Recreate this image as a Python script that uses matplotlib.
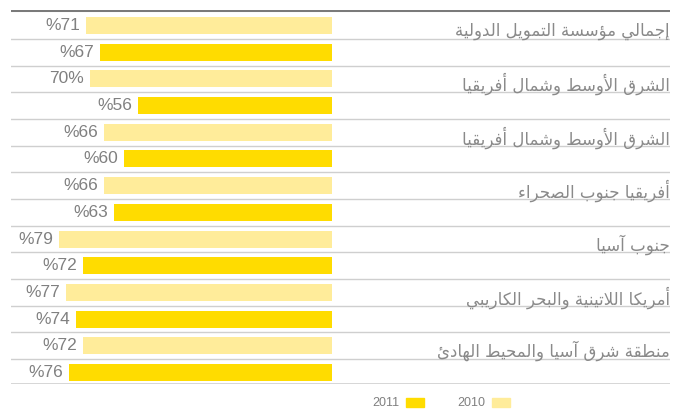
import matplotlib
matplotlib.use("Agg")
import matplotlib.pyplot as plt
from matplotlib.patches import Patch
import numpy as np

# ---------------- data ----------------
categories = [
    "إجمالي مؤسسة التمويل الدولية",
    "الشرق الأوسط وشمال أفريقيا",
    "الشرق الأوسط وشمال أفريقيا",
    "أفريقيا جنوب الصحراء",
    "جنوب آسيا",
    "أمريكا اللاتينية والبحر الكاريبي",
    "منطقة شرق آسيا والمحيط الهادئ",
]
values_2010 = [71, 70, 66, 66, 79, 77, 72]
values_2011 = [67, 56, 60, 63, 72, 74, 76]
labels_2010 = ["%71", "70%", "%66", "%66", "%79", "%77", "%72"]
labels_2011 = ["%67", "%56", "%60", "%63", "%72", "%74", "%76"]
series_names = ["2011", "2010"]

# ---------------- Arabic shaping for display ----------------
DUAL = {'ئ': 0xFE89, 'ب': 0xFE8F, 'ت': 0xFE95, 'ث': 0xFE99, 'ج': 0xFE9D,
        'ح': 0xFEA1, 'خ': 0xFEA5, 'س': 0xFEB1, 'ش': 0xFEB5, 'ص': 0xFEB9,
        'ض': 0xFEBD, 'ط': 0xFEC1, 'ظ': 0xFEC5, 'ع': 0xFEC9, 'غ': 0xFECD,
        'ف': 0xFED1, 'ق': 0xFED5, 'ك': 0xFED9, 'ل': 0xFEDD, 'م': 0xFEE1,
        'ن': 0xFEE5, 'ه': 0xFEE9, 'ي': 0xFEF1}
RIGHT = {'آ': 0xFE81, 'أ': 0xFE83, 'ؤ': 0xFE85, 'إ': 0xFE87, 'ا': 0xFE8D,
         'ة': 0xFE93, 'د': 0xFEA9, 'ذ': 0xFEAB, 'ر': 0xFEAD, 'ز': 0xFEAF,
         'و': 0xFEED, 'ى': 0xFEEF}
LAMALEF = {'آ': (0xFEF5, 0xFEF6), 'أ': (0xFEF7, 0xFEF8),
           'إ': (0xFEF9, 0xFEFA), 'ا': (0xFEFB, 0xFEFC)}


def shape(s):
    out = []
    i, n = 0, len(s)
    while i < n:
        c = s[i]
        prev = s[i - 1] if i > 0 else ''
        prev_conn = prev in DUAL
        if c == 'ل' and i + 1 < n and s[i + 1] in LAMALEF:
            iso, fin = LAMALEF[s[i + 1]]
            out.append(chr(fin if prev_conn else iso))
            i += 2
            continue
        nxt = s[i + 1] if i + 1 < n else ''
        if c in DUAL:
            next_conn = nxt in DUAL or nxt in RIGHT
            off = 3 if (prev_conn and next_conn) else 1 if prev_conn else 2 if next_conn else 0
            out.append(chr(DUAL[c] + off))
        elif c in RIGHT:
            out.append(chr(RIGHT[c] + (1 if prev_conn else 0)))
        elif c == 'ء':
            out.append(chr(0xFE80))
        else:
            out.append(c)
        i += 1
    return ''.join(reversed(out))


# ---------------- figure ----------------
W, H = 688, 412
fig = plt.figure(figsize=(W / 100, H / 100), dpi=100)
left_px, right_px, top_px, bot_px = 11, 670, 10, 384
ax = fig.add_axes([left_px / W, 1 - bot_px / H, (right_px - left_px) / W, (bot_px - top_px) / H])

zero_px, scale = 332, 3.46
ax.set_xlim((zero_px - left_px) / scale, (zero_px - right_px) / scale)
spacing = 26.69
first_c = 25.5
ax.set_ylim((bot_px - first_c) / spacing, -(first_c - top_px) / spacing)

c2010 = "#FFEC9A"
c2011 = "#FFDC00"
n = len(categories)
y10 = np.arange(n) * 2
y11 = y10 + 1
bh = 17 / spacing

ax.barh(y10, values_2010, height=bh, color=c2010, zorder=2)
ax.barh(y11, values_2011, height=bh, color=c2011, zorder=2)

grey = "#808080"
for y, v, lab in zip(y10, values_2010, labels_2010):
    ax.text(v + 1.7, y, lab, ha="right", va="center", color=grey,
            fontsize=12.5, family="Liberation Sans")
for y, v, lab in zip(y11, values_2011, labels_2011):
    ax.text(v + 1.7, y, lab, ha="right", va="center", color=grey,
            fontsize=12.5, family="Liberation Sans")

for y, cat in zip(y10, categories):
    ax.text(1.0, y + 0.2, shape(cat), transform=ax.get_yaxis_transform(),
            ha="right", va="center", color="#8a8a8a", fontsize=12,
            family="DejaVu Sans")

# separators
for k in range(2 * n - 1):
    ax.axhline(k + 0.5, color="#cfcfcf", lw=1, zorder=1)
ax.axhline(ax.get_ylim()[0], color="#cfcfcf", lw=1.2, zorder=1)
ax.axhline(ax.get_ylim()[1], color="#7a7a7a", lw=2.2, zorder=3)

ax.axis("off")

handles = [Patch(color=c2011), Patch(color=c2010)]
leg = fig.legend(handles, series_names, loc="center right",
                 bbox_to_anchor=(510 / W, 1 - 403.5 / H), ncol=2,
                 markerfirst=False, frameon=False,
                 handlelength=1.45, handleheight=0.7, handletextpad=0.5,
                 columnspacing=2.7, borderpad=0, borderaxespad=0,
                 prop={"family": "Liberation Sans", "size": 9})
for t in leg.get_texts():
    t.set_color(grey)

fig.savefig("out.png", dpi=100)
